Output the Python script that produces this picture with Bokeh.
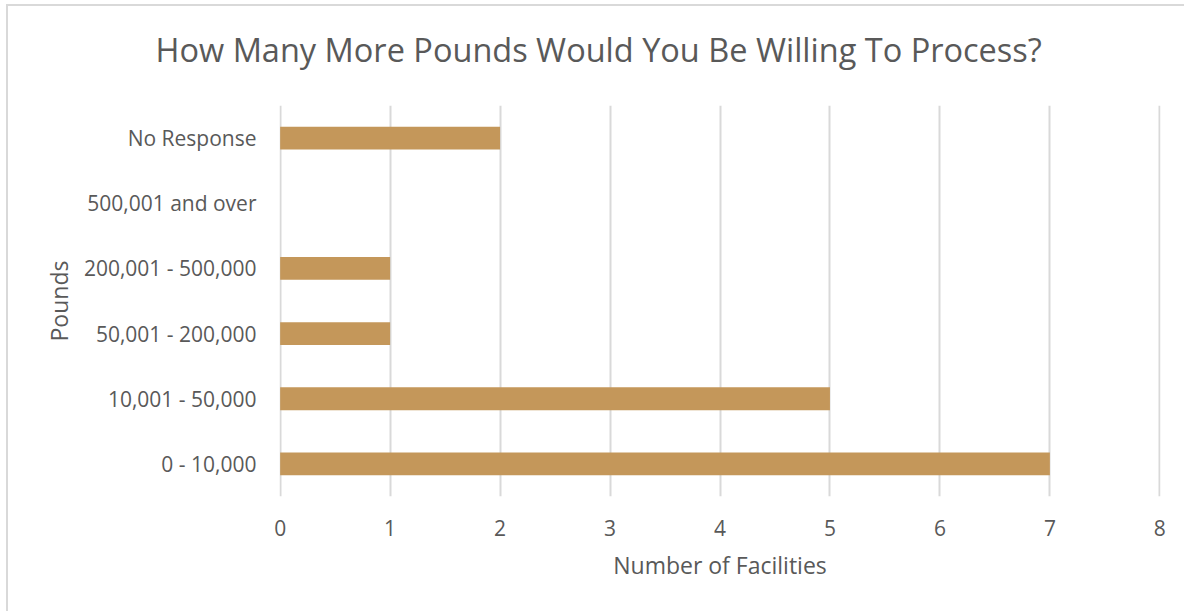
from bokeh.plotting import figure
from bokeh.models import Range1d, FixedTicker, Title
from bokeh.embed import file_html
from bokeh.resources import INLINE

categories = ["0 - 10,000", "10,001 - 50,000", "50,001 - 200,000",
              "200,001 - 500,000", "500,001 and over", "No Response"]
facilities = [7, 5, 1, 1, 0, 2]
x_ticks = [0, 1, 2, 3, 4, 5, 6, 7, 8]
title_text = "How Many More Pounds Would You Be Willing To Process?"

FONT = "Open Sans"
TXT = "#595959"
BAR = "#C4975A"
GRID = "#D9D9D9"

p = figure(width=1178, height=607, y_range=categories, x_range=Range1d(-0.006, 8.006),
           output_backend="svg", toolbar_location=None,
           min_border_left=271, min_border_right=26, min_border_top=98, min_border_bottom=117,
           margin=(4, 0, 0, 6),
           styles={"border-left": "2px solid #D9D9D9", "border-top": "2px solid #D9D9D9"})

p.hbar(y=categories, right=facilities, left=0, height=0.35, color=BAR, line_color=None)

t = Title(text=title_text, text_font=FONT, text_font_size="32.5px", text_font_style="normal",
          text_color=TXT, align="left", offset=-124, standoff=40, vertical_align="top",
          padding=dict(left=0, right=0, top=0, bottom=12))
p.add_layout(t, "above")

p.outline_line_color = None
p.xaxis.ticker = FixedTicker(ticks=x_ticks)
for ax in (p.xaxis, p.yaxis):
    ax.axis_line_color = None
    ax.major_tick_line_color = None
    ax.minor_tick_line_color = None
    ax.major_label_text_font = FONT
    ax.major_label_text_font_size = "21px"
    ax.major_label_text_color = TXT
    ax.axis_label_text_font = FONT
    ax.axis_label_text_font_size = "23px"
    ax.axis_label_text_font_style = "normal"
    ax.axis_label_text_color = TXT

p.xaxis.axis_label = "Number of Facilities"
p.yaxis.axis_label = "Pounds"
p.xaxis.major_label_standoff = 17
p.yaxis.major_label_standoff = 17
p.xaxis.axis_label_standoff = 10
p.yaxis.axis_label_standoff = 6

p.xgrid.grid_line_color = GRID
p.xgrid.grid_line_width = 2
p.ygrid.grid_line_color = None

open("out.html", "w").write(file_html(p, INLINE))
